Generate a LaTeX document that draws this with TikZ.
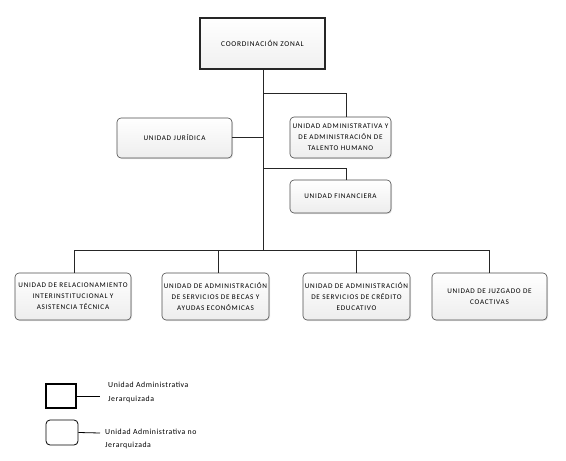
\documentclass[tikz,border=0pt]{standalone}
\usepackage{fontspec}
\setmainfont{Carlito}
\newfontfamily\boxfont[LetterSpace=10]{Carlito}
\newfontfamily\legfont[LetterSpace=7]{Carlito}
\usetikzlibrary{shadows}
\begin{document}
\begin{tikzpicture}[x=1pt,y=-1pt,
  unit/.style={draw=black!70,line width=0.6pt,rounded corners=4pt,top color=white,bottom color=black!7,
    drop shadow={shadow xshift=1pt,shadow yshift=-1pt,opacity=0.2},
    align=center,font=\boxfont\fontsize{7.2}{11}\selectfont,inner sep=0pt},
  link/.style={draw=black!85,line width=0.8pt},
  legtext/.style={anchor=west,align=left,font=\legfont\fontsize{7.8}{13.5}\selectfont,inner sep=0pt}]
\useasboundingbox (0,0) rectangle (566,461);
% top
\node[draw=black!85,line width=2.6pt,top color=white,bottom color=black!6,
  minimum width=125pt,minimum height=51pt,font=\boxfont\fontsize{7.4}{9}\selectfont] (cz) at (262.5,43.5) {COORDINACIÓN ZONAL};
\node[unit,minimum width=115pt,minimum height=40pt] (jur) at (174.5,138) {UNIDAD JURÍDICA};
\node[unit,minimum width=101pt,minimum height=41pt] (ath) at (340.5,137.5) {UNIDAD ADMINISTRATIVA Y\\DE ADMINISTRACIÓN DE\\TALENTO HUMANO};
\node[unit,minimum width=101pt,minimum height=33pt] (fin) at (340.5,196.5) {UNIDAD FINANCIERA};
\node[unit,minimum width=116pt,minimum height=47pt] (b1) at (73,296.5) {UNIDAD DE RELACIONAMIENTO\\INTERINSTITUCIONAL Y\\ASISTENCIA TÉCNICA};
\node[unit,minimum width=107pt,minimum height=47pt] (b2) at (215.5,296.5) {UNIDAD DE ADMINISTRACIÓN\\DE SERVICIOS DE BECAS Y\\AYUDAS ECONÓMICAS};
\node[unit,minimum width=107pt,minimum height=47pt] (b3) at (356.5,296.5) {UNIDAD DE ADMINISTRACIÓN\\DE SERVICIOS DE CRÉDITO\\EDUCATIVO};
\node[unit,minimum width=115pt,minimum height=47pt] (b4) at (489.5,296.5) {UNIDAD DE JUZGADO DE\\COACTIVAS};
% coordinates
\coordinate (t1) at (263,93);
\coordinate (t2) at (263,168);
\coordinate (t3) at (263,250);
\coordinate (tj) at (263,137);
\coordinate (h1) at (74,250);
\coordinate (h2) at (218,250);
\coordinate (h3) at (356,250);
\coordinate (h4) at (489,250);
% connectors
\draw[link] (cz.south -| t1) -- (t3);
\draw[link] (jur.east |- tj) -- (tj);
\draw[link] (t1) -| (ath.north -| 346,0);
\draw[link] (t2) -| (fin.north -| 346,0);
\draw[link] (h1) -- (h4);
\draw[link] (h1) -- (b1.north -| h1);
\draw[link] (h2) -- (b2.north -| h2);
\draw[link] (h3) -- (b3.north -| h3);
\draw[link] (h4) -- (b4.north -| h4);
% legend
\node[draw=black,line width=2pt,minimum width=30pt,minimum height=24pt,inner sep=0pt] (l1) at (61,396) {};
\node[draw=black,line width=0.8pt,rounded corners=4pt,minimum width=32pt,minimum height=25pt,inner sep=0pt] (l2) at (62,432.5) {};
\coordinate (e1) at (100,396);
\coordinate (e2) at (100,433);
\draw[line width=0.8pt] (l1.east) -- (e1);
\draw[line width=0.8pt] (l2.east) -- (e2);
\node[legtext] (lt1) at (108,392.5) {Unidad Administrativa\\Jerarquizada};
\node[legtext] (lt2) at (105,439) {Unidad Administrativa no\\Jerarquizada};
\end{tikzpicture}
\end{document}
